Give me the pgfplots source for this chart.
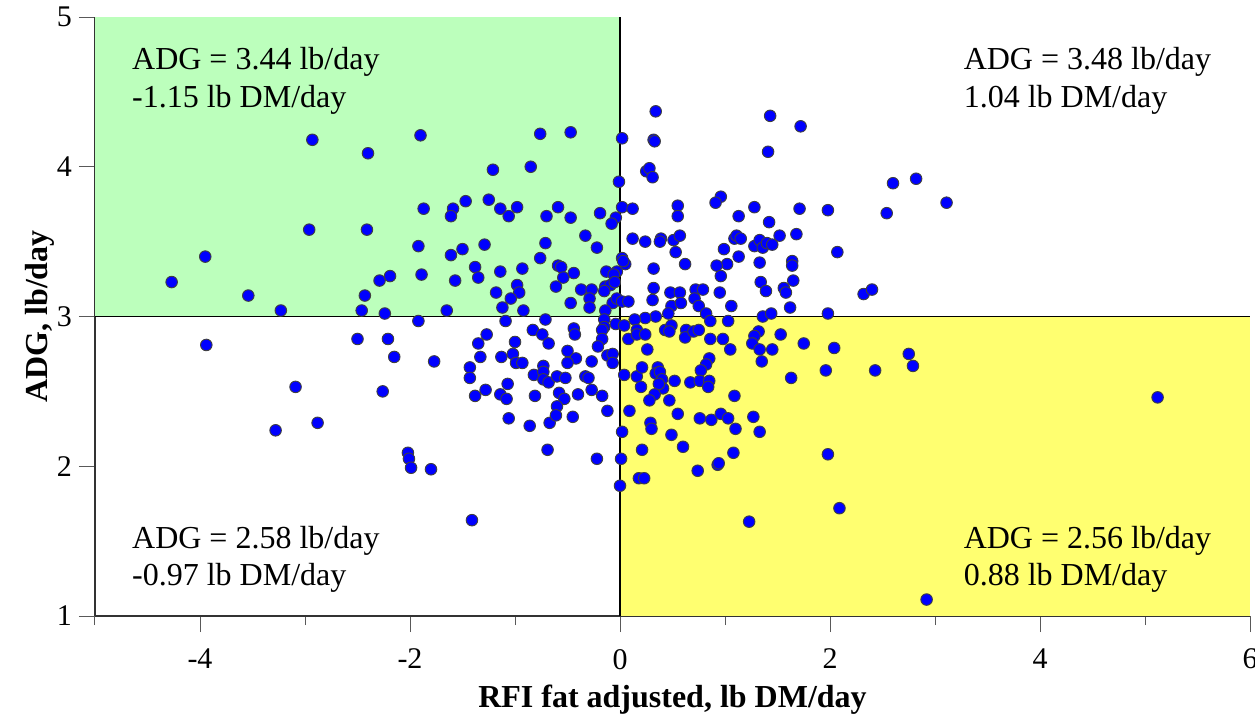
\documentclass[border=0pt]{standalone}
\usepackage{fontspec}
\setmainfont{Liberation Serif}
\usepackage{pgfplots}
\pgfplotsset{compat=1.18}
\definecolor{qgreen}{RGB}{188,255,188}
\definecolor{qyellow}{RGB}{255,255,112}
\definecolor{dotblue}{RGB}{0,0,255}
\newcommand{\qfont}{\fontsize{16}{19}\selectfont}
\begin{document}
\begin{tikzpicture}
\begin{axis}[
  scale only axis, width=577.5pt, height=299.5pt,
  xmin=-5, xmax=6, ymin=1, ymax=5,
  axis x line*=bottom, axis y line*=left,
  xtick={-4,-2,0,2,4,6}, minor xtick={-5,-3,-1,1,3,5},
  ytick={1,2,3,4,5},
  tick align=outside, major tick length=8pt, minor tick length=4.5pt,
  tick style={black!65, line width=0.5pt},
  axis line style={black!80, line width=0.6pt},
  tick label style={font=\fontsize{15}{18}\selectfont},
  xticklabel style={yshift=-5pt},
  /pgf/number format/assume math mode=true,
  xlabel={RFI fat adjusted, lb DM/day},
  ylabel={ADG, lb/day},
  label style={font=\fontsize{16}{19}\selectfont\bfseries},
  xlabel style={at={(axis description cs:0.5,-0.140)}, anchor=center},
  ylabel style={at={(axis description cs:-0.0476,0.5)}, anchor=center},
]
% quadrant shading
\fill[qgreen] (axis cs:-5,3) rectangle (axis cs:0,5);
\fill[qyellow] (axis cs:0,1) rectangle (axis cs:6,3);
\draw[black, line width=0.75pt] (axis cs:-5,3) -- (axis cs:6,3);
\draw[black, line width=0.75pt] (axis cs:0,1) -- (axis cs:0,5);

\addplot[only marks, mark=*, mark size=2.9pt,
  mark options={fill=dotblue, draw=black!75, line width=0.45pt}] coordinates {
(-2.93,4.18) (-2.40,4.09) (-1.90,4.21) (-1.87,3.72) (-2.96,3.58) (-2.41,3.58) (-1.92,3.47) (-3.95,3.40)
(-4.27,3.23) (-2.29,3.24) (-2.19,3.27) (-1.89,3.28) (-3.54,3.14) (-2.43,3.14) (-3.23,3.04) (-2.46,3.04)
(-2.24,3.02) (-1.92,2.97) (-3.94,2.81) (-2.50,2.85) (-2.21,2.85) (-2.15,2.73) (-3.09,2.53) (-2.26,2.50)
(-2.88,2.29) (-3.28,2.24) (-2.02,2.09) (-2.01,2.05) (-1.99,1.99) (-1.80,1.98) (-1.41,1.64)
(-0.76,4.22) (-1.21,3.98) (-0.85,4.00) (-1.59,3.72) (-1.61,3.67) (-1.47,3.77) (-1.25,3.78) (-1.14,3.72)
(-0.98,3.73) (-1.06,3.67) (-0.70,3.67) (-1.61,3.41) (-1.50,3.45) (-1.29,3.48) (-0.71,3.49) (-0.76,3.39)
(-1.38,3.33) (-1.35,3.26) (-1.14,3.30) (-0.93,3.32) (-1.57,3.24) (-0.98,3.21) (-1.18,3.16) (-0.96,3.16)
(-1.04,3.12)
(-0.47,4.23) (0.34,4.37) (0.02,4.19) (0.32,4.18) (0.33,4.17) (0.25,3.97) (0.28,3.99) (0.31,3.93)
(-0.01,3.90) (0.02,3.73) (0.12,3.72) (0.55,3.74) (0.55,3.67) (-0.59,3.73) (-0.47,3.66) (-0.19,3.69)
(-0.04,3.66) (-0.08,3.62) (-0.33,3.54) (-0.22,3.46) (0.12,3.52) (0.24,3.50) (0.39,3.52) (0.38,3.50)
(0.51,3.51) (0.53,3.43) (-0.59,3.34) (-0.56,3.33) (-0.54,3.26) (-0.44,3.29) (-0.61,3.20) (-0.37,3.18)
(-0.27,3.18) (-0.13,3.30) (-0.03,3.30) (-0.06,3.28) (-0.14,3.20) (-0.09,3.21) (-0.05,3.23) (0.02,3.39)
(0.05,3.35) (0.03,3.37) (0.32,3.32) (0.32,3.19) (0.48,3.16)
(1.43,4.34) (1.72,4.27) (1.41,4.10) (0.96,3.80) (0.91,3.76) (1.13,3.67) (1.28,3.73) (1.42,3.63)
(1.71,3.72) (0.57,3.54) (0.62,3.35) (0.99,3.45) (1.09,3.52) (1.11,3.54) (1.15,3.52) (1.13,3.40)
(1.02,3.35) (0.92,3.34) (0.96,3.27) (1.28,3.47) (1.33,3.51) (1.36,3.46) (1.40,3.49) (1.45,3.48)
(1.52,3.54) (1.68,3.55) (1.33,3.36) (1.64,3.37) (1.64,3.34) (1.65,3.24) (1.34,3.23) (1.39,3.17)
(1.56,3.19) (1.58,3.16) (0.57,3.16) (0.72,3.18) (0.79,3.18) (0.95,3.16)
(2.60,3.89) (2.82,3.92) (3.11,3.76) (1.98,3.71) (2.54,3.69) (2.07,3.43) (2.32,3.15) (2.40,3.18)
(1.62,3.06) (1.98,3.02)
(-1.12,3.06) (-0.92,3.04) (-1.65,3.04) (-1.09,2.97) (-0.71,2.98) (-0.83,2.91) (-0.74,2.88) (-0.68,2.82)
(-1.27,2.88) (-1.35,2.82) (-1.00,2.83) (-1.33,2.73) (-1.13,2.73) (-1.02,2.75) (-0.99,2.69) (-0.93,2.69)
(-1.77,2.70) (-1.43,2.66) (-1.43,2.59) (-0.73,2.67) (-0.82,2.61) (-0.73,2.63) (-0.73,2.58) (-0.68,2.56)
(-1.07,2.55) (-1.28,2.51) (-1.38,2.47) (-1.14,2.48) (-1.08,2.45) (-0.81,2.47) (-1.06,2.32) (-0.86,2.27)
(-0.67,2.29) (-0.69,2.11)
(-0.15,3.17) (-0.29,3.12) (-0.29,3.06) (-0.47,3.09) (-0.07,3.09) (-0.03,3.12) (0.02,3.10) (0.08,3.10)
(-0.14,3.04) (0.31,3.11) (0.49,3.07) (0.46,3.02) (0.34,3.00) (0.24,2.99) (0.14,2.98) (-0.15,2.98)
(-0.15,2.93) (-0.17,2.91) (-0.04,2.95) (0.04,2.94) (-0.44,2.92) (-0.43,2.88) (-0.17,2.85) (-0.21,2.80)
(0.08,2.85) (0.16,2.91) (0.16,2.88) (0.24,2.88) (0.43,2.91) (0.49,2.94) (0.26,2.78) (-0.50,2.77)
(-0.42,2.72) (-0.50,2.69) (-0.27,2.70) (-0.12,2.74) (-0.07,2.75) (-0.07,2.69) (-0.60,2.60) (-0.52,2.59)
(-0.33,2.60) (-0.30,2.59) (0.04,2.61) (0.16,2.60) (0.21,2.66) (0.36,2.66) (0.34,2.62) (0.38,2.63)
(0.40,2.58) (0.41,2.52) (0.37,2.55) (0.20,2.53) (0.52,2.57) (-0.58,2.49) (-0.53,2.45) (-0.40,2.48)
(-0.27,2.51) (-0.17,2.47) (0.33,2.48) (0.28,2.44) (0.47,2.44) (-0.60,2.40) (-0.61,2.34) (-0.45,2.33)
(-0.12,2.37) (0.09,2.37) (0.55,2.35) (0.29,2.29) (0.30,2.25) (0.49,2.21) (0.02,2.23) (-0.22,2.05)
(0.01,2.05) (0.21,2.11) (0.18,1.92) (0.23,1.92) (0.00,1.87)
(0.58,3.09) (0.71,3.12) (0.75,3.07) (0.82,3.02) (1.06,3.07) (1.36,3.00) (1.44,3.02) (0.86,2.97)
(1.03,2.97) (0.47,2.90) (0.63,2.91) (0.62,2.86) (0.70,2.90) (0.75,2.91) (0.86,2.85) (0.98,2.85)
(1.05,2.78) (1.32,2.90) (1.28,2.87) (1.26,2.82) (1.33,2.78) (1.45,2.78) (1.53,2.88) (1.35,2.70)
(1.75,2.82) (0.85,2.72) (0.82,2.68) (0.77,2.64) (0.67,2.56) (0.76,2.57) (0.85,2.57) (0.84,2.53)
(1.63,2.59) (1.09,2.47) (0.76,2.32) (0.87,2.31) (0.96,2.35) (1.03,2.32) (1.10,2.25) (1.27,2.33)
(1.33,2.23) (0.60,2.13) (1.08,2.09) (0.93,2.01) (0.94,2.02) (0.74,1.97)
(2.04,2.79) (1.96,2.64) (2.43,2.64) (2.75,2.75) (2.79,2.67) (5.12,2.46) (1.98,2.08) (2.09,1.72)
(2.92,1.11) (1.23,1.63)
};

% quadrant annotations
\node[anchor=base west, font=\qfont, inner sep=0pt] at (axis cs:-4.65,4.651) {ADG = 3.44 lb/day};
\node[anchor=base west, font=\qfont, inner sep=0pt] at (axis cs:-4.65,4.398) {-1.15 lb DM/day};
\node[anchor=base west, font=\qfont, inner sep=0pt] at (axis cs:3.27,4.651) {ADG = 3.48 lb/day};
\node[anchor=base west, font=\qfont, inner sep=0pt] at (axis cs:3.27,4.398) {1.04 lb DM/day};
\node[anchor=base west, font=\qfont, inner sep=0pt] at (axis cs:-4.65,1.451) {ADG = 2.58 lb/day};
\node[anchor=base west, font=\qfont, inner sep=0pt] at (axis cs:-4.65,1.205) {-0.97 lb DM/day};
\node[anchor=base west, font=\qfont, inner sep=0pt] at (axis cs:3.27,1.451) {ADG = 2.56 lb/day};
\node[anchor=base west, font=\qfont, inner sep=0pt] at (axis cs:3.27,1.205) {0.88 lb DM/day};
\end{axis}
\pgfresetboundingbox
\path[use as bounding box] ([xshift=-47.5pt,yshift=-51.5pt]current axis.south west)
  rectangle ([xshift=2.5pt,yshift=8.5pt]current axis.north east);
\end{tikzpicture}
\end{document}
